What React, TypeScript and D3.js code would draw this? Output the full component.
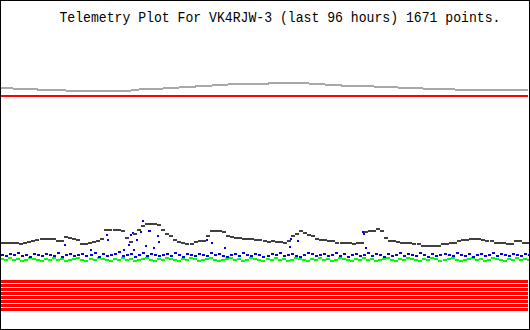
import React from "react";
import * as d3 from "d3";

const TITLE = "Telemetry Plot For VK4RJW-3 (last 96 hours) 1671 points.";

// channel values (arbitrary telemetry units), evenly spaced over the last 96 hours
const lightGrayVals = [
  232, 232, 231, 231, 231, 230, 230, 230, 229.5, 229.5,
  229.5, 229.5, 229.5, 229.5, 229.5, 229.5, 229.5, 230.5, 231.5, 231.5,
  231.5, 232.5, 232.5, 233.5, 233.5, 234.5, 234.5, 235.5, 235.5, 236.5,
  236.5, 236.5, 236.5, 236.5, 237.5, 237.5, 237.5, 237.5, 236.5, 236.5,
  235.5, 235.5, 234.5, 234.5, 234.5, 234.5, 233.5, 233.5, 233.5, 232.5,
  232.5, 232.5, 231.5, 231.5, 231.5, 231.5, 230.5, 230.5, 230.5, 230.5,
  230.5, 230.5, 230, 230, 230.5, 230.5,
];

const redLineVals = [224, 224, 224, 224, 224, 224, 224, 224, 224, 224, 224, 224, 224];

const darkGrayVals = [
  77, 77, 77.5, 77.5, 77.3, 76, 77, 77.7, 78.5, 80.5,
  81.5, 81.5, 81.5, 81.5, 79, 79, 83.3, 82, 81.5, 80.5,
  76, 76, 76.7, 78, 79.5, 81, 90, 90.3, 90.3, 90.3,
  89, 82, 78, 86, 90, 94, 96, 96, 96, 95,
  90, 86, 84, 80, 78, 77.5, 76.5, 76, 78, 78.5,
  79, 84, 89, 89, 89, 88.5, 84, 83, 82.5, 82,
  81.5, 81, 81, 80.5, 80, 79, 78, 78.5, 78, 78,
  77.5, 78.5, 84, 86, 89, 87, 84.5, 84, 81, 80,
  80, 79.5, 79, 77.5, 77, 77, 77, 76.5, 77, 77,
  88, 89, 89.5, 90.5, 89, 82, 79.5, 79, 78, 77.5,
  77.5, 77, 76, 75.5, 74.5, 74, 74, 74, 74.5, 76.5,
  76.5, 77, 77.5, 79.5, 80, 80.5, 81, 81.5, 81.5, 80.5,
  78.5, 78.5, 77, 77, 77, 75.7, 76, 79, 78.5, 77.5,
  77.5,
];

const blueVals = [
  65, 64, 66, 65, 67, 64, 65, 63, 66, 65,
  64, 66, 65, 64, 67, 63, 65, 66, 64, 65,
  66, 64, 65, 67, 63, 66, 64, 65, 66, 68,
  64, 65, 66, 63, 65, 67, 64, 66, 65, 64,
  65, 66, 64, 67, 65, 63, 66, 65, 64, 66,
  65, 64, 67, 65, 66, 64, 63, 65, 66, 64,
  67, 65, 64, 66, 65, 63, 64, 66, 65, 67,
  64, 65, 66, 64, 63, 65, 67, 66, 64, 65,
  66, 64, 65, 67, 64, 66, 63, 65, 66, 64,
  65, 67, 64, 66, 65, 63, 66, 64, 65, 67,
  64, 66, 65, 64, 67, 65, 63, 66, 64, 65,
  66, 65, 64, 67, 65, 64, 66, 63, 65, 66,
  64, 65, 67, 64, 66, 65, 64, 66, 65, 64,
  66, 65,
];

// isolated blue readings: [hours ago (negative), value]
const blueSpikes: [number, number][] = [
  [-84.5, 75], [-79.75, 70], [-77.0, 90], [-76.8, 85], [-76.6, 80],
  [-73.7, 70], [-72.8, 75], [-72.45, 85], [-72.1, 87], [-71.9, 70],
  [-71.4, 80], [-70.6, 88.3], [-70.3, 99.3], [-69.7, 74.3], [-69.2, 89.3],
  [-69.0, 89.3], [-68.4, 72.3], [-67.5, 84.3], [-67.35, 78.3], [-58.6, 80],
  [-57.7, 77], [-55.3, 72], [-43.6, 73.5], [-43.3, 81], [-42.0, 79.5],
  [-30.3, 88], [-30.1, 86], [-29.75, 72.5],
];

const greenVals = [
  61, 60, 62, 60, 61, 59, 60, 62, 61, 60,
  59, 61, 60, 62, 60, 61, 59, 60, 61, 62,
  60, 59, 61, 60, 62, 61, 60, 59, 61, 60,
  62, 60, 61, 59, 60, 61, 62, 60, 59, 61,
  60, 62, 61, 60, 59, 61, 60, 62, 61, 59,
  60, 61, 62, 60, 59, 60, 61, 62, 60, 61,
  59, 60, 62, 61, 60, 59, 61, 60, 62, 60,
  61, 59, 60, 62, 61, 60, 59, 61, 60, 62,
  60, 61, 59, 60, 62, 61, 60, 59, 61, 60,
  62, 60, 61, 59, 60, 61, 62, 60, 59, 61,
  60, 62, 61, 60, 59, 61, 60, 62, 61, 59,
  60, 61, 62, 60, 59, 60, 61, 62, 60, 61,
  59, 60, 62, 61, 60, 59, 61, 60, 62, 60,
  61, 60,
];

// saturated digital channels, flat over the window
const stripeLevels = [38.5, 34.5, 30.5, 26.5, 22.5, 18.5, 14.5, 10.5];

const W = 530;
const H = 330;

const x = d3.scaleLinear().domain([-96, 0]).range([1, 528]);
const y = d3.scaleLinear().domain([0, 300]).range([320, 20]);

const hoursOf = (n: number) => d3.range(n).map((i) => -96 + (96 * i) / (n - 1));

function pathOf(vals: number[]) {
  const hrs = hoursOf(vals.length);
  return (
    d3
      .line<number>()
      .x((_, i) => x(hrs[i]))
      .y((v) => y(v))(vals) || ""
  );
}

export default function App() {
  const blueHrs = hoursOf(blueVals.length);
  const greenHrs = hoursOf(greenVals.length);
  const darkHrs = hoursOf(darkGrayVals.length);
  return (
    <svg
      width={W}
      height={H}
      style={{ position: "absolute", left: 0, top: 0, background: "#fff" }}
    >
      <rect x={0} y={0} width={W} height={H} fill="#fff" />
      <text
        x={59.5}
        y={22}
        fontFamily="'Liberation Mono', 'DejaVu Sans Mono', monospace"
        fontSize={14}
        textLength={441}
        lengthAdjust="spacingAndGlyphs"
        fill="#000"
      >
        {TITLE}
      </text>
      <path d={pathOf(lightGrayVals)} fill="none" stroke="#a8a8a8" strokeWidth={2} shapeRendering="crispEdges" />
      <path d={pathOf(redLineVals)} fill="none" stroke="#ff0000" strokeWidth={2} shapeRendering="crispEdges" />
      {stripeLevels.map((lv, k) => (
        <line
          key={k}
          x1={x(-96)}
          x2={x(0)}
          y1={y(lv)}
          y2={y(lv)}
          stroke="#ff0000"
          strokeWidth={3}
          shapeRendering="crispEdges"
        />
      ))}
      {greenVals.map((v, i) => (
        <rect key={"g" + i} x={Math.round(x(greenHrs[i])) - 1} y={Math.round(y(v)) - 1} width={4} height={2} fill="#00ff00" />
      ))}
      {blueVals.map((v, i) => (
        <rect key={"b" + i} x={Math.round(x(blueHrs[i]))} y={Math.round(y(v)) - 1} width={3} height={2} fill="#0000ff" />
      ))}
      {blueSpikes.map(([h, v], i) => (
        <rect key={"s" + i} x={Math.round(x(h))} y={Math.round(y(v)) - 1} width={2} height={2} fill="#0000ff" />
      ))}
      {darkGrayVals.map((v, i) => (
        <rect key={"d" + i} x={Math.round(x(darkHrs[i])) - 2} y={Math.round(y(v)) - 1} width={4} height={2} fill="#404040" />
      ))}
      <rect x={0.5} y={0.5} width={W - 1} height={H - 1} fill="none" stroke="#000" strokeWidth={1} shapeRendering="crispEdges" />
    </svg>
  );
}
